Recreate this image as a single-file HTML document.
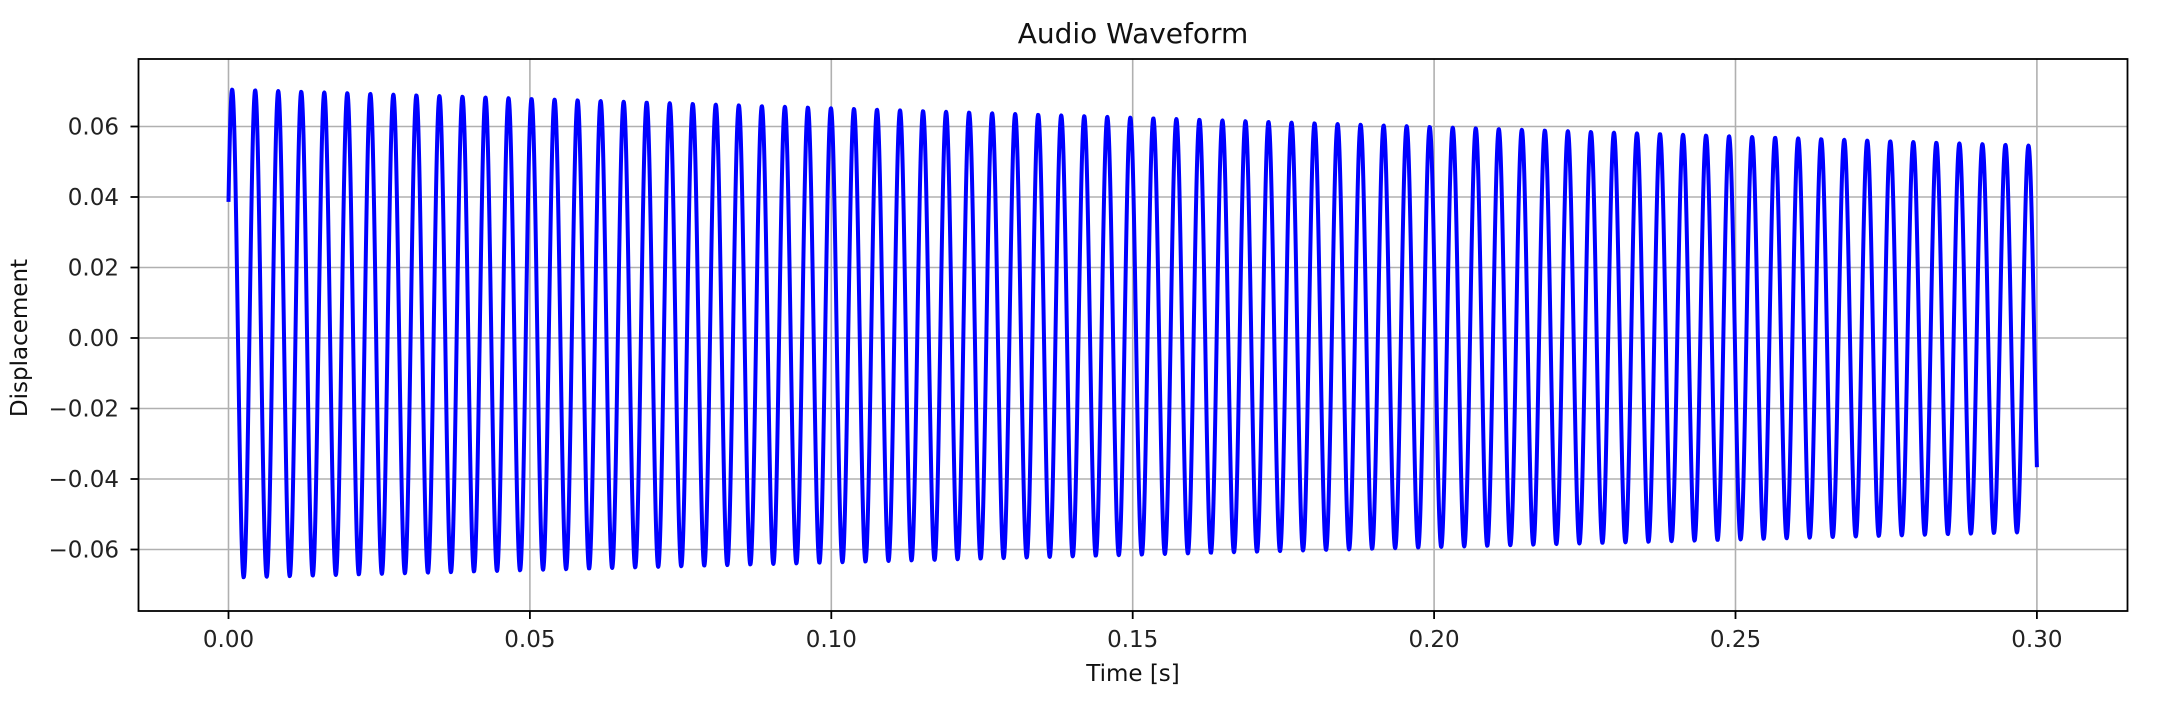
<!DOCTYPE html>
<html><head><meta charset="utf-8"><style>
html,body{margin:0;padding:0;background:#fff;}
svg{display:block;font-family:"DejaVu Sans","Liberation Sans",sans-serif;}
</style></head><body>
<svg id="s" width="2184" height="714" viewBox="0 0 2184 714" xmlns="http://www.w3.org/2000/svg">
<rect width="2184" height="714" fill="#fff"/>
<g id="grid" stroke="#b0b0b0" stroke-width="1.6"></g>
<path id="wave" fill="none" stroke="#0000ff" stroke-width="4" stroke-linejoin="round"/>
<rect x="138.5" y="59" width="1989" height="552" fill="none" stroke="#000" stroke-width="1.8"/>
<g id="ticks" stroke="#000" stroke-width="1.8"></g>
<g id="labels" fill="#222" font-size="23"></g>
<text x="1133" y="43" text-anchor="middle" font-size="28" fill="#111">Audio Waveform</text>
<text x="1133" y="681" text-anchor="middle" font-size="23" fill="#111">Time [s]</text>
<text transform="translate(27,338) rotate(-90)" text-anchor="middle" font-size="23" fill="#111">Displacement</text>
</svg>
<script>
var NS="http://www.w3.org/2000/svg";
function X(t){return 228.5+t/0.05*301.4;}
function Y(v){return 338-v/0.02*70.5;}
function el(p,n,a,txt){var e=document.createElementNS(NS,n);for(var k in a)e.setAttribute(k,a[k]);if(txt)e.textContent=txt;document.getElementById(p).appendChild(e);}
for(var i=0;i<=6;i++){var x=X(i*0.05);
el("grid","line",{x1:x,x2:x,y1:59,y2:611});
el("ticks","line",{x1:x,x2:x,y1:611,y2:619});
el("labels","text",{x:x,y:647,"text-anchor":"middle"},(i*0.05).toFixed(2));}
for(var j=-3;j<=3;j++){var v=j*0.02,y=Y(v);
el("grid","line",{x1:138.5,x2:2127.5,y1:y,y2:y});
el("ticks","line",{x1:130.5,x2:138.5,y1:y,y2:y});
el("labels","text",{x:119,y:y+8,"text-anchor":"end"},(v<0?"\u2212":"")+Math.abs(v).toFixed(2));}
var d="",N=6000,f=261.75,ph=0.57;
for(var k=0;k<=N;k++){var t=0.3*k/N;
var ap=0.0705-(0.0705-0.0545)*t/0.3, an=0.068-(0.068-0.055)*t/0.3;
var a=(ap+an)/2,c=(ap-an)/2;
var v=c+a*Math.sin(2*Math.PI*f*t+ph);
d+=(k?"L":"M")+X(t).toFixed(2)+" "+Y(v).toFixed(2);}
document.getElementById("wave").setAttribute("d",d);
</script>
</body></html>
